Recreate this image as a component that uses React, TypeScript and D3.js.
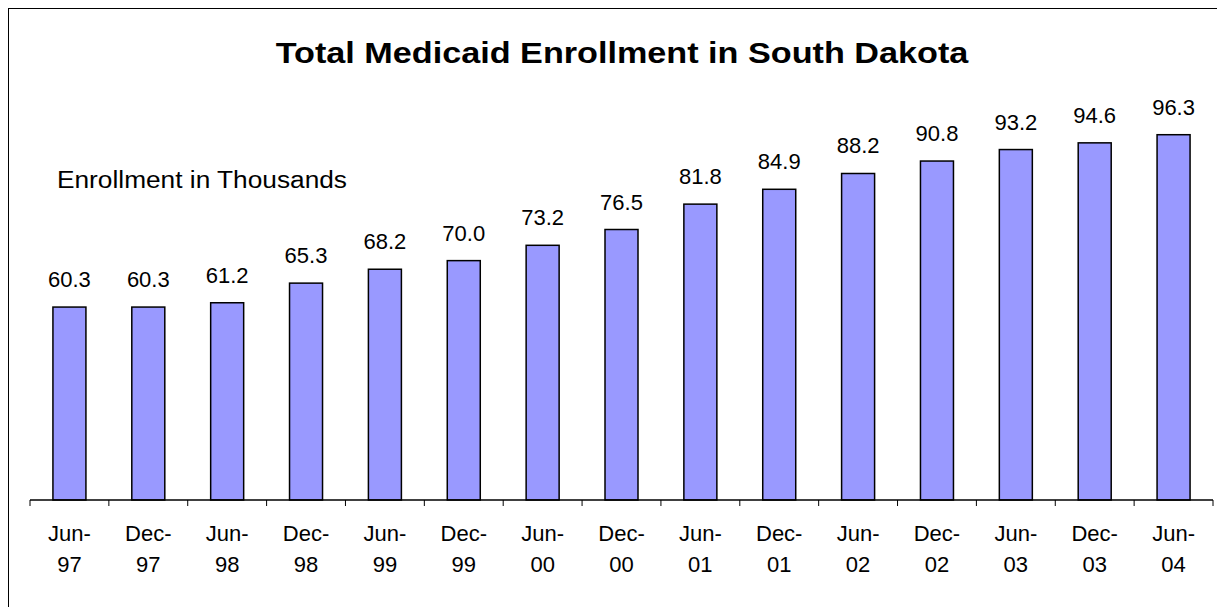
import React from "react";
import * as d3 from "d3";

const categories = ["Jun-97","Dec-97","Jun-98","Dec-98","Jun-99","Dec-99","Jun-00","Dec-00","Jun-01","Dec-01","Jun-02","Dec-02","Jun-03","Dec-03","Jun-04"];
const values = [60.3,60.3,61.2,65.3,68.2,70.0,73.2,76.5,81.8,84.9,88.2,90.8,93.2,94.6,96.3];
const yDomain = [20, 100];
const title = "Total Medicaid Enrollment in South Dakota";
const yLabel = "Enrollment in Thousands";

const W = 1225, H = 607;
const x0 = 22, x1 = 1205, yBase = 492, yTop = 109;
const barW = 33;
const font = "Arial, 'Liberation Sans', Helvetica, sans-serif";

export default function App() {
  const x = d3.scaleBand<string>().domain(categories).range([x0, x1]).padding(0);
  const y = d3.scaleLinear().domain(yDomain).range([yBase, yTop]);
  const step = x.step();
  const ticks = d3.range(categories.length + 1).map(i => x0 + i * step);
  return (
    <svg width={W} height={H} style={{ display: "block" }}>
      <rect x={0.5} y={0.5} width={W - 1} height={H - 1} fill="white" stroke="black" strokeWidth={1} />
      <g transform="translate(614,55) scale(1.14,1)">
        <text x={0} y={0} textAnchor="middle" fontFamily={font} fontWeight="bold" fontSize={30}>{title}</text>
      </g>
      <text x={49} y={180} fontFamily={font} fontSize={23} textLength={290} lengthAdjust="spacingAndGlyphs">{yLabel}</text>
      {categories.map((c, i) => {
        const cx = (x(c) as number) + step / 2;
        const top = y(values[i]);
        const [a, b] = c.split("-");
        return (
          <g key={c}>
            <rect x={cx - barW / 2} y={top} width={barW} height={yBase - top} fill="#9999FF" stroke="black" strokeWidth={1.5} />
            <text x={cx} y={top - 20} textAnchor="middle" fontFamily={font} fontSize={22}>{values[i].toFixed(1)}</text>
            <text x={cx} y={533} textAnchor="middle" fontFamily={font} fontSize={22}>{a + "-"}</text>
            <text x={cx} y={564} textAnchor="middle" fontFamily={font} fontSize={22}>{b}</text>
          </g>
        );
      })}
      <line x1={x0} x2={x1} y1={yBase} y2={yBase} stroke="black" strokeWidth={1.5} />
      {ticks.map((t, i) => (
        <line key={i} x1={t} x2={t} y1={yBase} y2={yBase + 6} stroke="black" strokeWidth={1} />
      ))}
    </svg>
  );
}
